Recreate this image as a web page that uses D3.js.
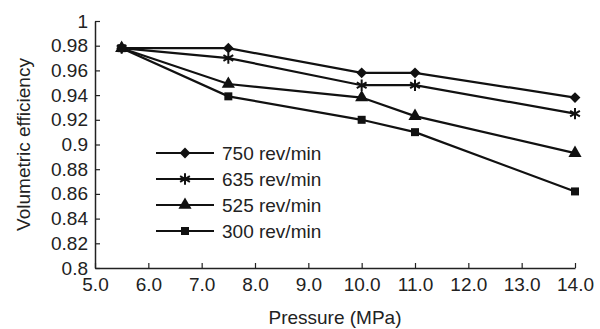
<!DOCTYPE html>
<html>
<head>
<meta charset="utf-8">
<script src="https://cdn.jsdelivr.net/npm/d3@7"></script>
<style>
  body { margin: 0; background: #fff; }
  text { font-family: "Liberation Sans", Arial, sans-serif; fill: #222; }
</style>
</head>
<body>
<svg id="chart" width="600" height="329"></svg>
<script>
// pressure values (MPa) on the x axis
var pressure = [5.5, 7.5, 10.0, 11.0, 14.0];

// one series per speed
var speeds = ["750 rev/min", "635 rev/min", "525 rev/min", "300 rev/min"];
var eff750 = [0.978, 0.978, 0.958, 0.958, 0.938];
var eff635 = [0.978, 0.970, 0.948, 0.948, 0.925];
var eff525 = [0.978, 0.949, 0.938, 0.923, 0.893];
var eff300 = [0.978, 0.939, 0.920, 0.910, 0.862];

var xTicks = [5, 6, 7, 8, 9, 10, 11, 12, 13, 14];
var yTicks = [0.8, 0.82, 0.84, 0.86, 0.88, 0.9, 0.92, 0.94, 0.96, 0.98, 1];

var svgWidth = 600, svgHeight = 329;
var margin = { top: 21, right: 25, bottom: 61, left: 95 };
var width = svgWidth - margin.left - margin.right;
var height = svgHeight - margin.top - margin.bottom;
var fontSize = 19;

var svg = d3.select("#chart");
var g = svg.append("g")
    .attr("transform", "translate(" + margin.left + "," + margin.top + ")");

var x = d3.scaleLinear().domain([5, 14]).range([0, width]);
var y = d3.scaleLinear().domain([0.8, 1]).range([height, 0]);

// axes with inward ticks
var xAxis = g.append("g")
    .attr("transform", "translate(0," + height + ")")
    .call(d3.axisBottom(x).tickValues(xTicks).tickSize(-5).tickSizeOuter(0)
        .tickFormat(d3.format(".1f")));

var yAxis = g.append("g")
    .call(d3.axisLeft(y).tickValues(yTicks).tickSize(-5).tickSizeOuter(0)
        .tickFormat(function(d) { return d3.format("")(+d.toFixed(2)); }));

[xAxis, yAxis].forEach(function(ax) {
    ax.selectAll(".domain").attr("stroke", "#222").attr("stroke-width", 1.5);
    ax.selectAll(".tick line").attr("stroke", "#222").attr("stroke-width", 1.2);
    ax.selectAll("text").attr("font-size", fontSize).attr("fill", "#222");
});
xAxis.selectAll("text").attr("y", 10);
yAxis.selectAll("text").attr("x", -7);

// axis titles
svg.append("text")
    .attr("x", margin.left + width / 2)
    .attr("y", 324)
    .attr("text-anchor", "middle")
    .attr("font-size", fontSize)
    .text("Pressure (MPa)");

svg.append("text")
    .attr("transform", "translate(30," + (margin.top + height / 2) + ") rotate(-90)")
    .attr("text-anchor", "middle")
    .attr("font-size", fontSize)
    .text("Volumetric efficiency");

// marker shapes
var symbols = [
    d3.symbol().type(d3.symbolDiamond2).size(75),
    d3.symbol().type(d3.symbolAsterisk).size(90),
    d3.symbol().type(d3.symbolTriangle).size(75),
    d3.symbol().type(d3.symbolSquare).size(64)
];

var seriesData = [eff750, eff635, eff525, eff300];

var line = d3.line()
    .x(function(d, i) { return x(pressure[i]); })
    .y(function(d) { return y(d); });

function drawMarker(sel, k) {
    if (k === 1) {
        // asterisk is open, so stroke it
        sel.attr("d", symbols[k]).attr("fill", "none").attr("stroke", "#111").attr("stroke-width", 2);
    } else {
        sel.attr("d", symbols[k]).attr("fill", "#111");
    }
}

seriesData.forEach(function(vals) {
    g.append("path")
        .datum(vals)
        .attr("fill", "none")
        .attr("stroke", "#111")
        .attr("stroke-width", 2.2)
        .attr("d", line);
});

seriesData.forEach(function(vals, k) {
    g.selectAll(".m" + k)
        .data(vals)
        .enter()
        .append("path")
        .attr("class", "m" + k)
        .attr("transform", function(d, i) {
            return "translate(" + x(pressure[i]) + "," + y(d) + ")";
        })
        .call(drawMarker, k);
});

// legend
var legend = svg.append("g").attr("transform", "translate(156,153)");
speeds.forEach(function(name, k) {
    var row = legend.append("g").attr("transform", "translate(0," + (k * 26) + ")");
    row.append("line")
        .attr("x1", 0).attr("x2", 58)
        .attr("stroke", "#111").attr("stroke-width", 2.2);
    row.append("path")
        .attr("transform", "translate(29,0)")
        .call(drawMarker, k);
    row.append("text")
        .attr("x", 66)
        .attr("y", 7)
        .attr("font-size", fontSize)
        .text(name);
});
</script>
</body>
</html>
